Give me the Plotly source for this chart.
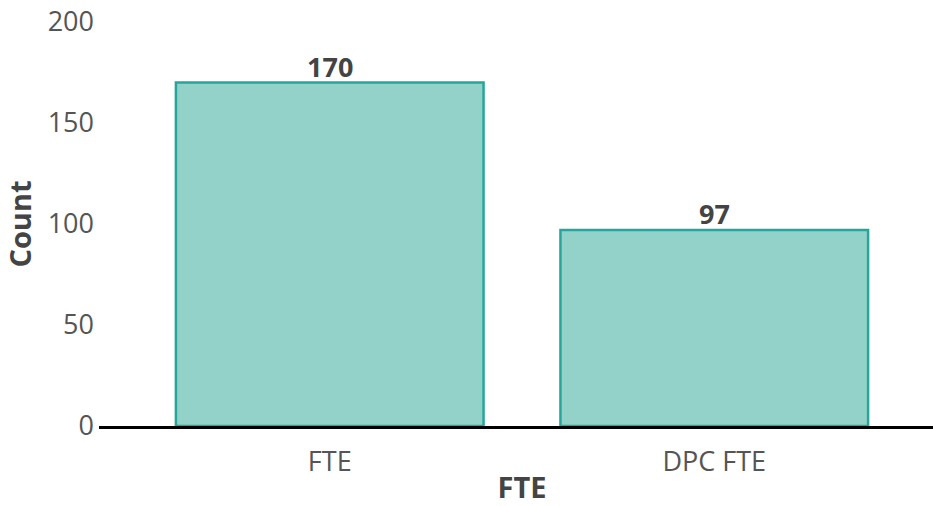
import plotly.graph_objects as go

categories = ["FTE", "DPC FTE"]
counts = [170, 97]
y_ticks = [0, 50, 100, 150, 200]
title_text = "Headcount by position type"

fig = go.Figure(go.Bar(
    x=categories, y=counts,
    marker=dict(color="#93d2c9", line=dict(color="#26a69a", width=2.5)),
))

label_annotations = [
    dict(
        x=c, y=v, xref="x", yref="y", text="<b>%d</b>" % v,
        showarrow=False, xanchor="center", yanchor="bottom", yshift=-4,
        font=dict(family="Open Sans", size=27, color="#444444"),
    )
    for c, v in zip(categories, counts)
]

fig.update_layout(
    width=945, height=506,
    margin=dict(l=99, r=0, t=22, b=80),
    plot_bgcolor="white", paper_bgcolor="white",
    bargap=0.2,
    font=dict(family="Open Sans", color="#555555"),
    xaxis=dict(
        range=[-0.6, 1.6],
        automargin=False,
        title=dict(text="<b>FTE</b>", font=dict(size=29, color="#444444"), standoff=13),
        tickfont=dict(size=27, color="#555555"),
        ticklabelstandoff=10,
        showline=True, linecolor="black", linewidth=2.5,
        showgrid=False, ticks="",
    ),
    yaxis=dict(
        range=[0, 200],
        automargin=False,
        tickvals=y_ticks,
        title=dict(text="<b>Count</b>", font=dict(size=29, color="#444444"), standoff=12),
        tickfont=dict(size=27, color="#555555"),
        ticklabelstandoff=4,
        showgrid=False, zeroline=False, showline=False, ticks="",
    ),
    showlegend=False,
    annotations=label_annotations + [dict(
        text="<b>" + title_text + "</b>", xref="paper", yref="paper",
        x=-0.12, y=1.0, yshift=40, xanchor="left", yanchor="bottom",
        showarrow=False, font=dict(size=28, color="#444444"),
    )],
)

fig.write_html(
    "out.html",
    config={"displayModeBar": False},
    post_script="document.body.style.margin='0';document.body.style.overflow='hidden';",
)
